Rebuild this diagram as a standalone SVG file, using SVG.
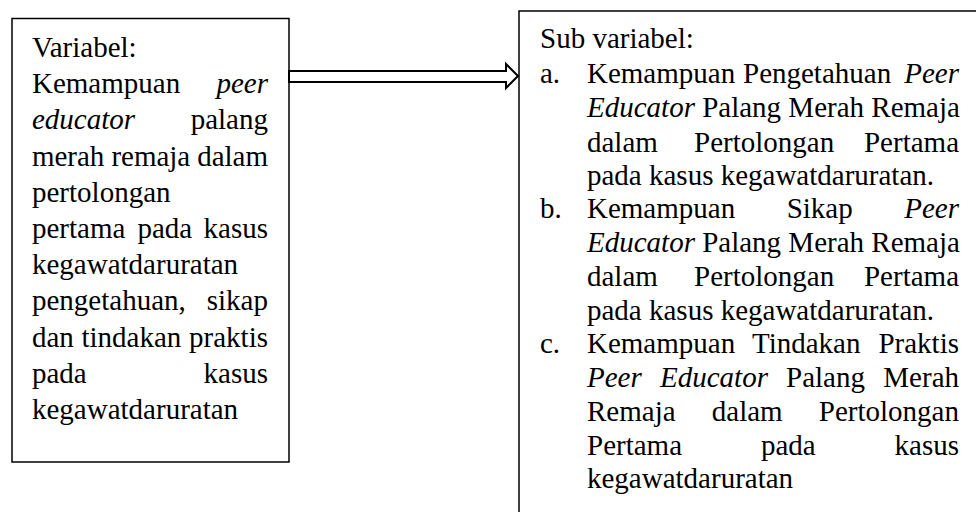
<svg xmlns="http://www.w3.org/2000/svg" width="976" height="512" viewBox="0 0 976 512">
<style>
.box{fill:#ffffff;stroke:#000000;stroke-width:1.5}
.t{font-family:'Liberation Serif','Times New Roman',Tinos,'DejaVu Serif',serif;font-size:29px;fill:#000000}
.i{font-style:italic}
.e{text-anchor:end}
.arrow{fill:#ffffff;stroke:#000000;stroke-width:2;stroke-linejoin:miter}
</style>
<rect width="976" height="512" fill="#ffffff"/>
<g id="node-variabel" font-family="Liberation Serif, serif">
<rect class="box" x="12" y="18.5" width="277" height="443.5"/>
<text class="t" x="32" y="57">Variabel:</text>
<text class="t" x="32" y="93.2">Kemampuan</text>
<text class="t i e" x="268" y="93.2">peer</text>
<text class="t i" x="32" y="129.4">educator</text>
<text class="t e" x="268" y="129.4">palang</text>
<text class="t" x="32" y="165.6" textLength="236" lengthAdjust="spacing">merah remaja dalam</text>
<text class="t" x="32" y="201.8">pertolongan</text>
<text class="t" x="32" y="238">pertama</text>
<text class="t" x="137.5" y="238">pada</text>
<text class="t e" x="268" y="238">kasus</text>
<text class="t" x="32" y="274.2">kegawatdaruratan</text>
<text class="t" x="32" y="310.4">pengetahuan,</text>
<text class="t e" x="268" y="310.4">sikap</text>
<text class="t" x="32" y="346.6">dan</text>
<text class="t" x="81.5" y="346.6">tindakan</text>
<text class="t e" x="268" y="346.6">praktis</text>
<text class="t" x="32" y="382.8">pada</text>
<text class="t e" x="268" y="382.8">kasus</text>
<text class="t" x="32" y="419">kegawatdaruratan</text>
</g>
<g id="node-subvariabel" font-family="Liberation Serif, serif">
<rect class="box" x="519" y="11" width="470" height="520"/>
<text class="t" x="540" y="48">Sub variabel:</text>
<text class="t" x="540" y="82.5">a.</text>
<text class="t" x="587" y="82.5">Kemampuan</text>
<text class="t" x="743" y="82.5">Pengetahuan</text>
<text class="t i e" x="959" y="82.5">Peer</text>
<text class="t" x="587" y="117"><tspan class="i">Educator</tspan> Palang Merah Remaja</text>
<text class="t" x="587" y="151.5">dalam</text>
<text class="t" x="694" y="151.5">Pertolongan</text>
<text class="t e" x="959" y="151.5">Pertama</text>
<text class="t" x="587" y="184.5">pada kasus kegawatdaruratan.</text>
<text class="t" x="540" y="218">b.</text>
<text class="t" x="587" y="218">Kemampuan</text>
<text class="t" x="786.7" y="218">Sikap</text>
<text class="t i e" x="959" y="218">Peer</text>
<text class="t" x="587" y="252"><tspan class="i">Educator</tspan> Palang Merah Remaja</text>
<text class="t" x="587" y="286">dalam</text>
<text class="t" x="694" y="286">Pertolongan</text>
<text class="t e" x="959" y="286">Pertama</text>
<text class="t" x="587" y="320">pada kasus kegawatdaruratan.</text>
<text class="t" x="540" y="353">c.</text>
<text class="t" x="587" y="353">Kemampuan</text>
<text class="t" x="752" y="353">Tindakan</text>
<text class="t e" x="959" y="353">Praktis</text>
<text class="t i" x="587" y="386.5">Peer</text>
<text class="t i" x="660" y="386.5">Educator</text>
<text class="t" x="786" y="386.5">Palang</text>
<text class="t e" x="959" y="386.5">Merah</text>
<text class="t" x="587" y="420.5">Remaja</text>
<text class="t" x="711.8" y="420.5">dalam</text>
<text class="t e" x="959" y="420.5">Pertolongan</text>
<text class="t" x="587" y="454.5">Pertama</text>
<text class="t" x="761" y="454.5">pada</text>
<text class="t e" x="959" y="454.5">kasus</text>
<text class="t" x="587" y="487.5">kegawatdaruratan</text>
</g>
<g id="connectors">
<polygon class="arrow" points="289,71 506,71 506,64 518,76 506,88 506,82 289,82"/>
</g>
</svg>
